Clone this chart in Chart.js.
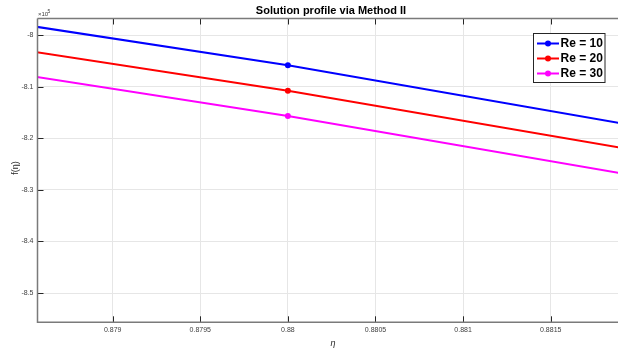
<!DOCTYPE html>
<html>
<head>
<meta charset="utf-8">
<title>Solution profile via Method II</title>
<script src="https://cdn.jsdelivr.net/npm/chart.js@4.4.1/dist/chart.umd.min.js"></script>
<style>
  html, body { margin: 0; padding: 0; background: #fff; }
  #wrap { width: 618px; height: 351px; }
</style>
</head>
<body>
<div id="wrap"><canvas id="profileChart" width="618" height="351"></canvas></div>
<script>
// eta grid and f(eta) for each Reynolds number
const eta = [0.87, 0.88, 0.89];
const fRe10 = [-7.538e5, -8.0588e5, -8.648e5];
const fRe20 = [-7.587e5, -8.1078e5, -8.691e5];
const fRe30 = [-7.630e5, -8.1569e5, -8.740e5];

const seriesLabels = ['Re = 10', 'Re = 20', 'Re = 30'];
const seriesColors = ['#0000ff', '#ff0000', '#ff00ff'];

// tick positions
const xTicks = [0.879, 0.8795, 0.88, 0.8805, 0.881, 0.8815];
const yTicks = [-8.0e5, -8.1e5, -8.2e5, -8.3e5, -8.4e5, -8.5e5];

// zoomed window
const xMin = 0.878571, xMax = 0.881884;
const yMin = -8.5567e5, yMax = -7.968e5;

const FONT = '"Liberation Sans", Arial, sans-serif';

function toPoints(ys) {
    return eta.map((x, i) => ({ x: x, y: ys[i] }));
}

const datasets = [fRe10, fRe20, fRe30].map((ys, i) => ({
    label: seriesLabels[i],
    data: toPoints(ys),
    borderColor: seriesColors[i],
    backgroundColor: seriesColors[i],
    borderWidth: 2,
    pointRadius: 3,
    pointHoverRadius: 3,
    pointBorderWidth: 0,
    tension: 0,
    clip: 0
}));

// axis box, inward ticks, exponent, labels and legend
const matlabDecor = {
    id: 'matlabDecor',
    afterDraw(chart) {
        const { ctx, chartArea: a, scales } = chart;
        const xs = scales.x, ys = scales.y;
        ctx.save();

        // tick marks pointing into the axes
        ctx.strokeStyle = '#262626';
        ctx.lineWidth = 1;
        ctx.beginPath();
        xs.ticks.forEach(t => {
            const px = Math.round(xs.getPixelForValue(t.value)) + 0.5;
            ctx.moveTo(px, a.bottom); ctx.lineTo(px, a.bottom - 6);
            ctx.moveTo(px, a.top); ctx.lineTo(px, a.top + 6);
        });
        ys.ticks.forEach(t => {
            const py = Math.round(ys.getPixelForValue(t.value)) + 0.5;
            ctx.moveTo(a.left, py); ctx.lineTo(a.left + 6, py);
        });
        ctx.stroke();

        // axis lines
        ctx.strokeStyle = '#7a7a7a';
        ctx.lineWidth = 1.5;
        ctx.beginPath();
        ctx.moveTo(a.left, a.top); ctx.lineTo(a.left, a.bottom); ctx.lineTo(a.right, a.bottom);
        ctx.moveTo(a.left, a.top); ctx.lineTo(a.right, a.top);
        ctx.stroke();

        // title
        ctx.fillStyle = '#000';
        ctx.textAlign = 'center';
        ctx.textBaseline = 'middle';
        ctx.font = 'bold 11px ' + FONT;
        ctx.fillText('Solution profile via Method II', 331, 10.5);

        // exponent
        ctx.fillStyle = '#404040';
        ctx.textAlign = 'left';
        ctx.font = '6px ' + FONT;
        ctx.fillText('\u00d710', 38, 14.5);
        ctx.font = '5px ' + FONT;
        ctx.fillText('5', 47.5, 12);

        // axis labels
        ctx.fillStyle = '#262626';
        ctx.textAlign = 'center';
        ctx.font = 'italic 9px ' + FONT;
        ctx.fillText('\u03b7', 333, 343.5);
        ctx.save();
        ctx.translate(15.5, 168);
        ctx.rotate(-Math.PI / 2);
        ctx.font = '9px ' + FONT;
        ctx.fillText('f(\u03b7)', 0, 0);
        ctx.restore();

        // legend
        const bx = 533.5, by = 33.5, bw = 71.5, bh = 49;
        ctx.fillStyle = '#fff';
        ctx.fillRect(bx, by, bw, bh);
        ctx.strokeStyle = '#262626';
        ctx.lineWidth = 1;
        ctx.strokeRect(bx, by, bw, bh);
        ctx.textAlign = 'left';
        ctx.font = 'bold 12px ' + FONT;
        seriesLabels.forEach((lab, i) => {
            const ry = 43.5 + i * 15;
            ctx.strokeStyle = seriesColors[i];
            ctx.lineWidth = 2;
            ctx.beginPath();
            ctx.moveTo(537, ry); ctx.lineTo(559, ry);
            ctx.stroke();
            ctx.fillStyle = seriesColors[i];
            ctx.beginPath();
            ctx.arc(548, ry, 3, 0, Math.PI * 2);
            ctx.fill();
            ctx.fillStyle = '#000';
            ctx.fillText(lab, 560.5, ry + 0.5);
        });

        ctx.restore();
    }
};

const ctx = document.getElementById('profileChart').getContext('2d');

const myChart = new Chart(ctx, {
    type: 'line',
    data: { datasets: datasets },
    options: {
        responsive: false,
        animation: false,
        events: [],
        layout: { autoPadding: false, padding: { top: 18.5, right: 0, left: 0, bottom: 0 } },
        plugins: {
            legend: { display: false },
            title: { display: false },
            tooltip: { enabled: false }
        },
        scales: {
            x: {
                type: 'linear',
                min: xMin,
                max: xMax,
                afterBuildTicks: s => { s.ticks = xTicks.map(v => ({ value: v })); },
                afterFit: s => { s.height = 28.7; s.paddingLeft = 0; s.paddingRight = 0; },
                border: { display: false },
                grid: { color: '#e6e6e6', lineWidth: 1, drawTicks: false },
                ticks: {
                    padding: 4,
                    color: '#404040',
                    font: { family: FONT, size: 7 },
                    maxRotation: 0,
                    autoSkip: false,
                    callback: v => String(parseFloat(v.toFixed(4)))
                }
            },
            y: {
                type: 'linear',
                min: yMin,
                max: yMax,
                afterBuildTicks: s => { s.ticks = yTicks.map(v => ({ value: v })); },
                afterFit: s => { s.width = 37.5; s.paddingTop = 0; s.paddingBottom = 0; },
                border: { display: false },
                grid: { color: '#e6e6e6', lineWidth: 1, drawTicks: false },
                ticks: {
                    padding: 4,
                    color: '#404040',
                    font: { family: FONT, size: 7 },
                    autoSkip: false,
                    callback: v => String(parseFloat((v / 1e5).toFixed(2)))
                }
            }
        }
    },
    plugins: [matlabDecor]
});
</script>
</body>
</html>
